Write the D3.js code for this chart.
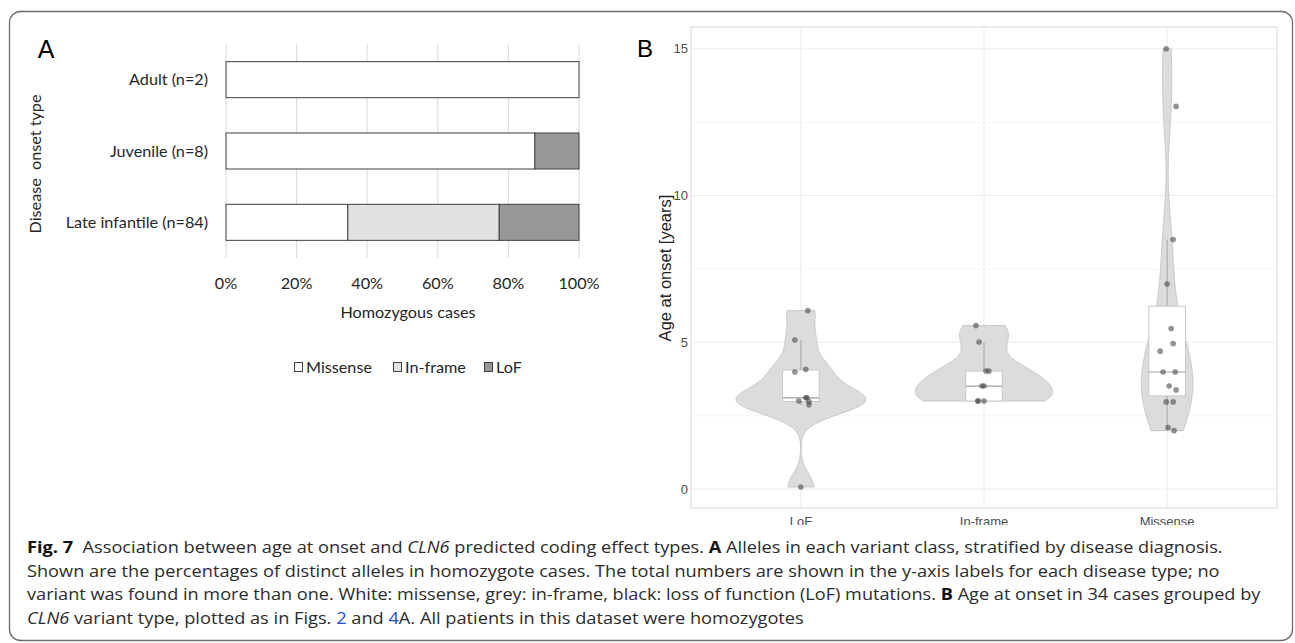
<!DOCTYPE html>
<html>
<head>
<meta charset="utf-8">
<script src="https://cdn.jsdelivr.net/npm/d3@7"></script>
<style>
  body { margin: 0; background: #fff; }
</style>
</head>
<body>
<svg id="fig" width="1295" height="643"></svg>
<script>
// ---- panel A: share of alleles per variant class (%)
const onsetTypes = ["Adult (n=2)", "Juvenile (n=8)", "Late infantile (n=84)"];
const variantClasses = ["Missense", "In-frame", "LoF"];
const missenseShare = [100, 87.5, 34.5];
const inframeShare = [0, 0, 42.9];
const lofShare = [0, 12.5, 22.6];
const pctTicks = [0, 20, 40, 60, 80, 100];

// ---- panel B: age at onset (years) per effect type
const effectTypes = ["LoF", "In-frame", "Missense"];
const lofAges = [0.07, 2.87, 2.98, 3.0, 3.11, 3.11, 3.99, 4.08, 5.08, 6.08];
const inframeAges = [3.0, 3.0, 3.0, 3.51, 3.51, 4.02, 4.02, 5.01, 5.57];
const missenseAges = [1.99, 2.1, 2.97, 2.97, 3.38, 3.51, 3.99, 3.99, 4.7, 4.96, 5.47, 6.99, 8.5, 13.04, 15];
// horizontal jitter of each dot (share of category spacing)
const lofJitter = [0, 0.044, 0.044, -0.011, 0.027, 0.033, -0.033, 0.027, -0.033, 0.038];
const inframeJitter = [-0.033, -0.033, 0, -0.011, 0, 0.011, 0.027, -0.027, -0.044];
const missenseJitter = [0.038, 0.005, -0.005, 0.033, 0.049, 0.011, -0.022, 0.044, -0.038, 0.033, 0.022, 0, 0.033, 0.049, -0.005];
const ageTicks = [0, 5, 10, 15];
const ageMinor = [2.5, 7.5, 12.5];

const svg = d3.select("#fig");

// outer frame
svg.append("rect")
  .attr("x", 9.5).attr("y", 11.5)
  .attr("width", 1283).attr("height", 629)
  .attr("rx", 11)
  .attr("fill", "none")
  .attr("stroke", "#6e6e6e")
  .attr("stroke-width", 1.3);

// ================= panel A =================
const gA = svg.append("g").attr("font-family", "Lato, 'Open Sans', sans-serif").attr("fill", "#262626");
const fsA = 16.2;

const xA = d3.scaleLinear().domain([0, 100]).range([226, 579]);
const yA = d3.scaleBand().domain(onsetTypes).range([44, 258])
  .paddingInner(0.495).paddingOuter(0.2475);

gA.append("g").selectAll("line")
  .data(pctTicks).enter()
  .append("line")
  .attr("x1", d => xA(d)).attr("x2", d => xA(d))
  .attr("y1", 44).attr("y2", 258)
  .attr("stroke", "#d9d9d9")
  .attr("stroke-width", 1);

const rowsA = onsetTypes.map((t, i) => ({
  type: t, "Missense": missenseShare[i], "In-frame": inframeShare[i], "LoF": lofShare[i]
}));
const stackA = d3.stack().keys(variantClasses)(rowsA);
const fillA = d3.scaleOrdinal().domain(variantClasses).range(["#ffffff", "#e1e1e1", "#989898"]);

gA.append("g").selectAll("g")
  .data(stackA).enter()
  .append("g")
  .attr("fill", d => fillA(d.key))
  .selectAll("rect")
  .data(d => d.filter(s => s[1] - s[0] > 0)).enter()
  .append("rect")
  .attr("x", d => xA(d[0]))
  .attr("width", d => xA(d[1]) - xA(d[0]))
  .attr("y", d => yA(d.data.type))
  .attr("height", yA.bandwidth())
  .attr("stroke", "#404040")
  .attr("stroke-width", 1);

// category labels
gA.append("g").selectAll("text")
  .data(onsetTypes).enter()
  .append("text")
  .attr("x", 208)
  .attr("y", d => yA(d) + yA.bandwidth() / 2)
  .attr("dy", "0.35em")
  .attr("text-anchor", "end")
  .attr("font-size", fsA)
  .text(d => d);

// x tick labels
gA.append("g").selectAll("text")
  .data(pctTicks).enter()
  .append("text")
  .attr("x", d => xA(d))
  .attr("y", 283)
  .attr("dy", "0.35em")
  .attr("text-anchor", "middle")
  .attr("font-size", fsA)
  .text(d => d + "%");

gA.append("text")
  .attr("x", 408).attr("y", 312).attr("dy", "0.35em")
  .attr("text-anchor", "middle")
  .attr("font-size", fsA)
  .text("Homozygous cases");

gA.append("text")
  .attr("transform", "translate(35,164) rotate(-90)")
  .attr("dy", "0.35em")
  .attr("text-anchor", "middle")
  .attr("font-size", fsA)
  .style("white-space", "pre")
  .text("Disease  onset type");

// legend
const legendX = [294, 393, 484];
const legA = gA.append("g").selectAll("g")
  .data(variantClasses).enter()
  .append("g")
  .attr("transform", (d, i) => `translate(${legendX[i]},367)`);
legA.append("rect")
  .attr("x", 0.5).attr("y", -4.5)
  .attr("width", 8).attr("height", 9)
  .attr("fill", d => fillA(d))
  .attr("stroke", "#404040");
legA.append("text")
  .attr("x", 12).attr("dy", "0.35em")
  .attr("font-size", fsA)
  .text(d => d);

gA.append("text")
  .attr("x", 46).attr("y", 49).attr("dy", "0.35em")
  .attr("text-anchor", "middle")
  .attr("font-family", "'Liberation Sans', Arial, sans-serif")
  .attr("font-size", 25)
  .attr("fill", "#000")
  .text("A");

// ================= panel B =================
svg.append("clipPath").attr("id", "cutB")
  .append("rect").attr("x", 0).attr("y", 0).attr("width", 1295).attr("height", 525);

const gB = svg.append("g")
  .attr("clip-path", "url(#cutB)")
  .attr("font-family", "'Liberation Sans', Arial, sans-serif");

const pLeft = 691, pRight = 1277, pTop = 27, pBottom = 508;
const xB = d3.scalePoint().domain(effectTypes).range([pLeft, pRight]).padding(0.6);
const yB = d3.scaleLinear().domain([-0.645, 15.745]).range([pBottom, pTop]);
const step = xB.step();

// minor and major grid
gB.append("g").selectAll("line")
  .data(ageMinor).enter()
  .append("line")
  .attr("x1", pLeft).attr("x2", pRight)
  .attr("y1", d => yB(d)).attr("y2", d => yB(d))
  .attr("stroke", "#f6f6f6");
gB.append("g").selectAll("line")
  .data(ageTicks).enter()
  .append("line")
  .attr("x1", pLeft).attr("x2", pRight)
  .attr("y1", d => yB(d)).attr("y2", d => yB(d))
  .attr("stroke", "#ececec");
gB.append("g").selectAll("line")
  .data(effectTypes).enter()
  .append("line")
  .attr("x1", d => xB(d)).attr("x2", d => xB(d))
  .attr("y1", pTop).attr("y2", pBottom)
  .attr("stroke", "#ececec");

// kernel density, bandwidth as R's bw.nrd0, trimmed to data range
function nrd0(v) {
  const s = v.slice().sort(d3.ascending);
  const iqr = d3.quantileSorted(s, 0.75) - d3.quantileSorted(s, 0.25);
  const lo = Math.min(d3.deviation(s), iqr / 1.34);
  return 0.9 * lo * Math.pow(s.length, -0.2);
}
function kde(v) {
  const bw = nrd0(v);
  const [mn, mx] = d3.extent(v);
  const grid = d3.range(512).map(i => mn + (mx - mn) * i / 511);
  return grid.map(g => [g, d3.mean(v, x => Math.exp(-0.5 * ((g - x) / bw) ** 2)) / (bw * Math.sqrt(2 * Math.PI))]);
}

const groups = [
  { type: "LoF", ages: lofAges, jitter: lofJitter },
  { type: "In-frame", ages: inframeAges, jitter: inframeJitter },
  { type: "Missense", ages: missenseAges, jitter: missenseJitter }
];
groups.forEach(g => { g.dens = kde(g.ages); });
const maxDens = d3.max(groups, g => d3.max(g.dens, d => d[1]));
const wB = d3.scaleLinear().domain([0, maxDens]).range([0, 0.375 * step]);

const violin = d3.area()
  .curve(d3.curveLinear)
  .y(d => yB(d[0]));

gB.append("g").selectAll("path")
  .data(groups).enter()
  .append("path")
  .attr("d", g => violin
    .x0(d => xB(g.type) - wB(d[1]))
    .x1(d => xB(g.type) + wB(d[1]))(g.dens))
  .attr("fill", "#dcdcdc")
  .attr("stroke", "#bdbdbd")
  .attr("stroke-width", 0.8);

// boxplots
groups.forEach(g => {
  const s = g.ages.slice().sort(d3.ascending);
  const q1 = d3.quantileSorted(s, 0.25), med = d3.quantileSorted(s, 0.5), q3 = d3.quantileSorted(s, 0.75);
  const iqr = q3 - q1;
  const hi = d3.max(s.filter(v => v <= q3 + 1.5 * iqr));
  const lo = d3.min(s.filter(v => v >= q1 - 1.5 * iqr));
  const cx = xB(g.type), hw = 0.1 * step;
  const bx = gB.append("g");
  bx.append("line").attr("x1", cx).attr("x2", cx).attr("y1", yB(q3)).attr("y2", yB(hi))
    .attr("stroke", "#a6a6a6");
  bx.append("line").attr("x1", cx).attr("x2", cx).attr("y1", yB(q1)).attr("y2", yB(lo))
    .attr("stroke", "#a6a6a6");
  bx.append("rect")
    .attr("x", cx - hw).attr("width", 2 * hw)
    .attr("y", yB(q3)).attr("height", yB(q1) - yB(q3))
    .attr("fill", "#fff").attr("stroke", "#c8c8c8");
  bx.append("line").attr("x1", cx - hw).attr("x2", cx + hw).attr("y1", yB(med)).attr("y2", yB(med))
    .attr("stroke", "#a0a0a0").attr("stroke-width", 1.2);
});

// dots
gB.append("g").selectAll("g")
  .data(groups).enter()
  .append("g")
  .selectAll("circle")
  .data(g => g.ages.map((a, i) => ({ type: g.type, age: a, j: g.jitter[i] }))).enter()
  .append("circle")
  .attr("cx", d => xB(d.type) + d.j * step)
  .attr("cy", d => yB(d.age))
  .attr("r", 2.8)
  .attr("fill", "#4a4a4a")
  .attr("fill-opacity", 0.6);

// panel border
gB.append("rect")
  .attr("x", pLeft).attr("y", pTop)
  .attr("width", pRight - pLeft).attr("height", pBottom - pTop)
  .attr("fill", "none").attr("stroke", "#d6d6d6");

// axes text
gB.append("g").selectAll("text")
  .data(ageTicks).enter()
  .append("text")
  .attr("x", 688).attr("y", d => yB(d)).attr("dy", "0.35em")
  .attr("text-anchor", "end")
  .attr("font-size", 13)
  .attr("fill", "#4d4d4d")
  .text(d => d);

gB.append("g").selectAll("text")
  .data(effectTypes).enter()
  .append("text")
  .attr("x", d => xB(d)).attr("y", 521).attr("dy", "0.35em")
  .attr("text-anchor", "middle")
  .attr("font-size", 13)
  .attr("fill", "#4d4d4d")
  .text(d => d);

gB.append("text")
  .attr("transform", "translate(665,268) rotate(-90)")
  .attr("dy", "0.35em")
  .attr("text-anchor", "middle")
  .attr("font-size", 16.5)
  .attr("fill", "#222")
  .text("Age at onset [years]");

gB.append("text")
  .attr("x", 645).attr("y", 49).attr("dy", "0.35em")
  .attr("text-anchor", "middle")
  .attr("font-size", 24)
  .attr("fill", "#000")
  .text("B");

// ================= caption =================
const captionLines = [
  [["Fig. 7", "b"], ["  Association between age at onset and ", ""], ["CLN6", "i"],
   [" predicted coding effect types. ", ""], ["A", "b"], [" Alleles in each variant class, stratified by disease diagnosis.", ""]],
  [["Shown are the percentages of distinct alleles in homozygote cases. The total numbers are shown in the y-axis labels for each disease type; no", ""]],
  [["variant was found in more than one. White: missense, grey: in-frame, black: loss of function (LoF) mutations. ", ""], ["B", "b"],
   [" Age at onset in 34 cases grouped by", ""]],
  [["CLN6", "i"], [" variant type, plotted as in Figs. ", ""], ["2", "l"], [" and ", ""], ["4", "l"],
   ["A. All patients in this dataset were homozygotes", ""]]
];
const captionBase = [553, 577, 600, 624];
const captionWidth = [1196, 1193, 1234, 777];

const gC = svg.append("g")
  .attr("font-family", "'Open Sans', 'Noto Sans', sans-serif")
  .attr("font-size", 16.5)
  .attr("fill", "#2b2b2b");

captionLines.forEach((parts, i) => {
  const t = gC.append("text").attr("x", 0).attr("y", 0).style("white-space", "pre");
  parts.forEach(([s, k]) => {
    const sp = t.append("tspan").text(s);
    if (k === "b") sp.attr("font-weight", "bold").attr("fill", "#111");
    if (k === "i") sp.attr("font-style", "italic");
    if (k === "l") sp.attr("fill", "#1f4fd1");
  });
  const k = captionWidth[i] / t.node().getComputedTextLength();
  t.attr("transform", `translate(27,${captionBase[i]}) scale(${k},1)`);
});
</script>
</body>
</html>
